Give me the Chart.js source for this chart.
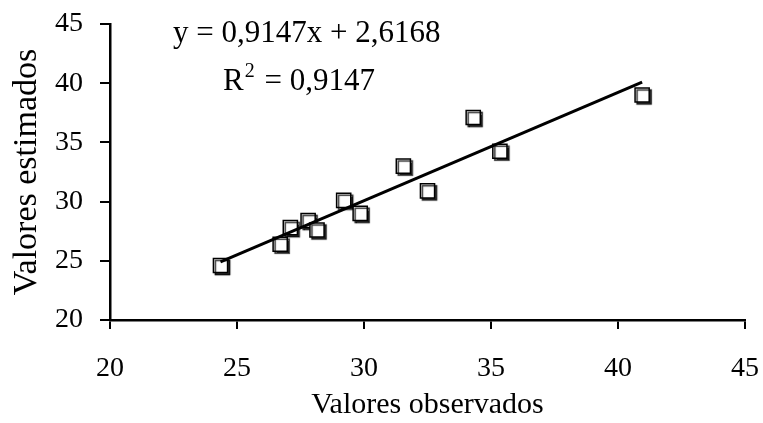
<!DOCTYPE html>
<html><head><meta charset="utf-8">
<script src="https://cdn.jsdelivr.net/npm/chart.js@4/dist/chart.umd.min.js"></script>
<style>html,body{margin:0;padding:0;background:#fff;}canvas{display:block;}</style>
</head><body>
<canvas id="c" width="763" height="423"></canvas>
<script>
const observed  = [24.35, 26.7, 27.1, 27.8, 28.15, 29.2, 29.85, 31.55, 32.5, 34.3, 35.35, 40.95];
const estimated = [24.6, 26.4, 27.8, 28.4, 27.6, 30.1, 29.0, 33.0, 30.9, 37.1, 34.25, 39.0];
// Trend line end points
const trendX = [24.35, 40.95];
const trendY = [24.9, 40.1];
// Tick labels
const xTicks = [20, 25, 30, 35, 40, 45];
const yTicks = [20, 25, 30, 35, 40, 45];
// Texts
const xTitle = 'Valores observados';
const yTitle = 'Valores estimados';
const equationLine = 'y = 0,9147x + 2,6168';
const r2Parts = ['R', '2', ' = 0,9147'];

const FONT = '"Liberation Serif", "Times New Roman", serif';

const scatterPoints = observed.map((x, i) => ({x, y: estimated[i]}));
const trendPoints = trendX.map((x, i) => ({x, y: trendY[i]}));

const shadowPlugin = {
  id: 'markerShadow',
  beforeDatasetDraw(chart, args) {
    if (args.index === 1) {
      const ctx = chart.ctx;
      ctx.save();
      ctx.shadowColor = 'rgba(0,0,0,0.8)';
      ctx.shadowOffsetX = 2;
      ctx.shadowOffsetY = 2;
      ctx.shadowBlur = 1;
    }
  },
  afterDatasetDraw(chart, args) {
    if (args.index === 1) chart.ctx.restore();
  }
};

const equationPlugin = {
  id: 'equation',
  afterDraw(chart) {
    const ctx = chart.ctx;
    ctx.save();
    ctx.fillStyle = '#000';
    ctx.textBaseline = 'alphabetic';
    ctx.textAlign = 'left';
    ctx.font = '31px ' + FONT;
    ctx.fillText(equationLine, 173, 42);
    let x = 223;
    const by = 90;
    ctx.fillText(r2Parts[0], x, by);
    x += ctx.measureText(r2Parts[0]).width;
    ctx.font = '20px ' + FONT;
    ctx.fillText(r2Parts[1], x + 1, by - 13);
    x += ctx.measureText(r2Parts[1]).width + 3;
    ctx.font = '31px ' + FONT;
    ctx.fillText(r2Parts[2], x, by);
    ctx.restore();
  }
};

const bgPlugin = {
  id: 'bg',
  beforeDraw(chart) {
    const ctx = chart.ctx;
    ctx.save();
    ctx.fillStyle = '#fff';
    ctx.fillRect(0, 0, chart.width, chart.height);
    ctx.restore();
  }
};

new Chart(document.getElementById('c'), {
  type: 'scatter',
  data: {
    datasets: [
      {
        type: 'line',
        data: trendPoints,
        borderColor: '#000',
        borderWidth: 3,
        pointRadius: 0,
        fill: false,
        order: 0
      },
      {
        type: 'scatter',
        data: scatterPoints,
        pointStyle: 'rect',
        pointRadius: 10,
        pointHoverRadius: 10,
        backgroundColor: '#fff',
        borderColor: '#000',
        borderWidth: 1.5,
        order: 1
      }
    ]
  },
  options: {
    responsive: false,
    animation: false,
    events: [],
    layout: {padding: {top: 24, right: 18, left: 0, bottom: 0}},
    plugins: {legend: {display: false}, tooltip: {enabled: false}},
    scales: {
      x: {
        type: 'linear',
        min: 20, max: 45,
        afterBuildTicks: s => { s.ticks = xTicks.map(v => ({value: v})); },
        afterFit: s => { s.height = 103; s.paddingLeft = 0; s.paddingRight = 0; },
        border: {display: true, color: '#000', width: 2.5},
        grid: {drawOnChartArea: false, drawTicks: true, color: '#000', lineWidth: 2, tickLength: 9},
        ticks: {color: '#000', font: {family: FONT, size: 28}, padding: 23, maxRotation: 0},
        title: {display: true, text: xTitle, color: '#000', font: {family: FONT, size: 30}, padding: {top: 0, bottom: 0}}
      },
      y: {
        type: 'linear',
        min: 20, max: 45,
        afterBuildTicks: s => { s.ticks = yTicks.map(v => ({value: v})); },
        afterFit: s => { s.width = 110; s.paddingTop = 0; s.paddingBottom = 0; },
        border: {display: true, color: '#000', width: 2.5},
        grid: {drawOnChartArea: false, drawTicks: true, color: '#000', lineWidth: 2, tickLength: 10},
        ticks: {color: '#000', font: {family: FONT, size: 28}, padding: 17},
        title: {display: true, text: yTitle, color: '#000', font: {family: FONT, size: 34}, padding: {top: 7, bottom: 0}}
      }
    }
  },
  plugins: [bgPlugin, shadowPlugin, equationPlugin]
});
</script>
</body></html>
